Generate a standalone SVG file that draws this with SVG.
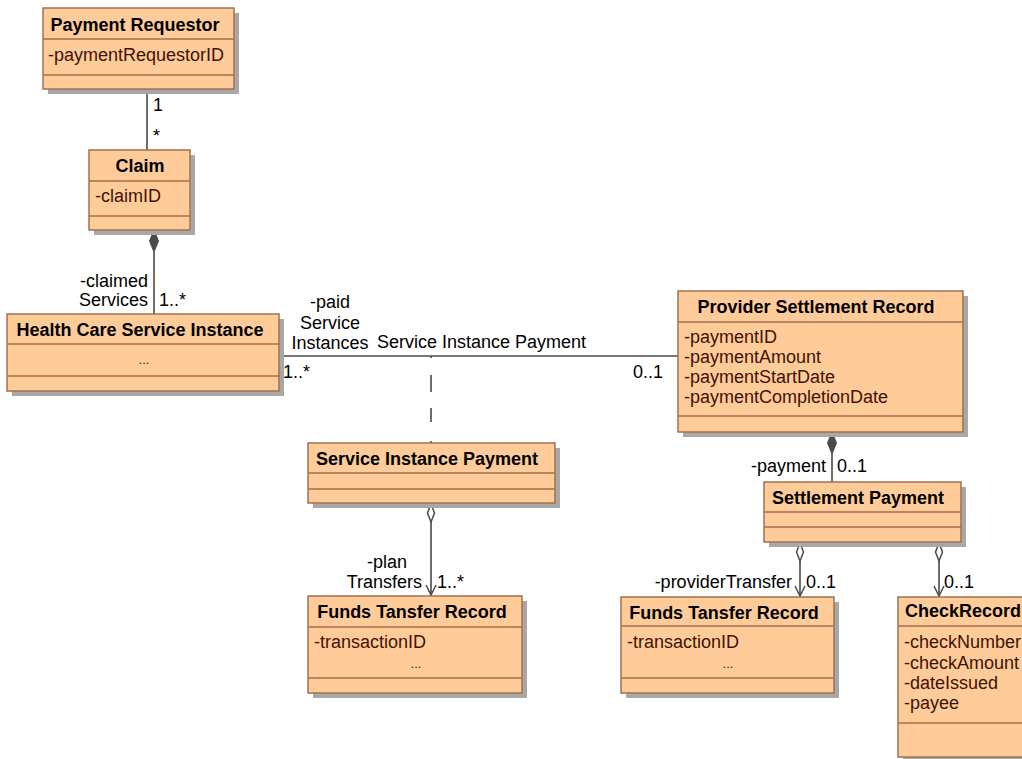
<svg xmlns="http://www.w3.org/2000/svg" width="1022" height="759" viewBox="0 0 1022 759">
<style>
text{font-family:"Liberation Sans",Arial,sans-serif;font-size:18px;}
.box{fill:#FFCC99;stroke:#A0714F;stroke-width:1.5;}
.shadow{fill:#A8A8A8;}
.sep{stroke:#A0714F;stroke-width:1.5;}
.hdr{font-weight:bold;fill:#000;text-anchor:middle;}
.hdrl{font-weight:bold;fill:#000;text-anchor:start;}
.attr{fill:#3F1206;}
.dots{fill:#3F1206;font-size:13px;text-anchor:middle;}
.lbl{fill:#000;}
.ln{stroke:#4A4A4A;stroke-width:1.6;fill:none;}
.comp{fill:#4A4A4A;stroke:#4A4A4A;stroke-width:1;}
.agg{fill:#fff;stroke:#4A4A4A;stroke-width:1.5;}
</style>
<defs>
<marker id="open" viewBox="0 0 12 12" refX="11" refY="6" markerWidth="12" markerHeight="12" markerUnits="userSpaceOnUse" orient="auto">
<path d="M1,1 L11,6 L1,11" fill="none" stroke="#4A4A4A" stroke-width="1.5"/>
</marker>
</defs>

<g id="connectors">
<line class="ln" x1="147" y1="89" x2="147" y2="150"/>
<text class="lbl" x="153" y="111">1</text>
<text class="lbl" x="153" y="142">*</text>

<line class="ln" x1="154" y1="252" x2="154" y2="314"/>
<path class="comp" d="M154,230 L158.5,241 L154,252 L149.5,241 Z"/>
<text class="lbl" x="148" y="287" text-anchor="end">-claimed</text>
<text class="lbl" x="148" y="306" text-anchor="end">Services</text>
<text class="lbl" x="159" y="306">1..*</text>

<line class="ln" x1="279" y1="356" x2="678" y2="356" stroke-width="1.2"/>
<text class="lbl" x="330" y="308" text-anchor="middle">-paid</text>
<text class="lbl" x="330" y="329" text-anchor="middle">Service</text>
<text class="lbl" x="330" y="349" text-anchor="middle">Instances</text>
<text class="lbl" x="377" y="348">Service Instance Payment</text>
<text class="lbl" x="283" y="378">1..*</text>
<text class="lbl" x="663" y="378" text-anchor="end">0..1</text>

<line class="ln" x1="431" y1="356" x2="431" y2="443" stroke-dasharray="2 17 17 16 14 19 4"/>

<line class="ln" x1="431" y1="522" x2="431" y2="595" marker-end="url(#open)"/>
<path class="agg" d="M431,504 L434.5,513 L431,522 L427.5,513 Z"/>
<text class="lbl" x="387" y="568" text-anchor="middle">-plan</text>
<text class="lbl" x="422" y="588" text-anchor="end">Transfers</text>
<text class="lbl" x="437" y="588">1..*</text>

<line class="ln" x1="832" y1="454" x2="832" y2="482"/>
<path class="comp" d="M832,432 L836.5,443 L832,454 L827.5,443 Z"/>
<text class="lbl" x="826" y="472" text-anchor="end">-payment</text>
<text class="lbl" x="837" y="472">0..1</text>

<line class="ln" x1="800" y1="561" x2="800" y2="596" marker-end="url(#open)"/>
<path class="agg" d="M800,543 L803.5,552 L800,561 L796.5,552 Z"/>
<text class="lbl" x="792" y="588" text-anchor="end">-providerTransfer</text>
<text class="lbl" x="806" y="588">0..1</text>

<line class="ln" x1="939" y1="561" x2="939" y2="596" marker-end="url(#open)"/>
<path class="agg" d="M939,543 L942.5,552 L939,561 L935.5,552 Z"/>
<text class="lbl" x="944" y="588">0..1</text>
</g>

<g id="payment-requestor">
<rect class="shadow" x="48" y="13" width="191" height="81"/>
<rect class="box" x="43" y="8" width="191" height="81"/>
<line class="sep" x1="43" y1="39" x2="234" y2="39"/>
<line class="sep" x1="43" y1="75" x2="234" y2="75"/>
<text class="hdr" x="135" y="31">Payment Requestor</text>
<text class="attr" x="48" y="61">-paymentRequestorID</text>
</g>

<g id="claim">
<rect class="shadow" x="94" y="155" width="101" height="80"/>
<rect class="box" x="89" y="150" width="101" height="80"/>
<line class="sep" x1="89" y1="181" x2="190" y2="181"/>
<line class="sep" x1="89" y1="216" x2="190" y2="216"/>
<text class="hdr" x="140" y="172">Claim</text>
<text class="attr" x="95" y="202">-claimID</text>
</g>

<g id="health-care-service-instance">
<rect class="shadow" x="12" y="319" width="272" height="77"/>
<rect class="box" x="7" y="314" width="272" height="77"/>
<line class="sep" x1="7" y1="344" x2="279" y2="344"/>
<line class="sep" x1="7" y1="376" x2="279" y2="376"/>
<text class="hdr" x="140" y="336">Health Care Service Instance</text>
<text class="dots" x="144" y="364">...</text>
</g>

<g id="provider-settlement-record">
<rect class="shadow" x="683" y="296" width="285" height="141"/>
<rect class="box" x="678" y="291" width="285" height="141"/>
<line class="sep" x1="678" y1="322" x2="963" y2="322"/>
<line class="sep" x1="678" y1="416" x2="963" y2="416"/>
<text class="hdr" x="816" y="313">Provider Settlement Record</text>
<text class="attr" x="684" y="343">-paymentID</text>
<text class="attr" x="684" y="363">-paymentAmount</text>
<text class="attr" x="684" y="383">-paymentStartDate</text>
<text class="attr" x="684" y="403">-paymentCompletionDate</text>
</g>

<g id="service-instance-payment">
<rect class="shadow" x="313" y="448" width="247" height="60"/>
<rect class="box" x="308" y="443" width="247" height="60"/>
<line class="sep" x1="308" y1="473" x2="555" y2="473"/>
<line class="sep" x1="308" y1="489" x2="555" y2="489"/>
<text class="hdr" x="427" y="465">Service Instance Payment</text>
</g>

<g id="funds-transfer-record-1">
<rect class="shadow" x="313" y="601" width="214" height="97"/>
<rect class="box" x="308" y="596" width="214" height="97"/>
<line class="sep" x1="308" y1="627" x2="522" y2="627"/>
<line class="sep" x1="308" y1="678" x2="522" y2="678"/>
<text class="hdr" x="412" y="618">Funds Tansfer Record</text>
<text class="attr" x="314" y="648">-transactionID</text>
<text class="dots" x="416" y="668">...</text>
</g>

<g id="settlement-payment">
<rect class="shadow" x="769" y="487" width="197" height="60"/>
<rect class="box" x="764" y="482" width="197" height="60"/>
<line class="sep" x1="764" y1="512" x2="961" y2="512"/>
<line class="sep" x1="764" y1="527" x2="961" y2="527"/>
<text class="hdr" x="858" y="504">Settlement Payment</text>
</g>

<g id="funds-transfer-record-2">
<rect class="shadow" x="626" y="602" width="213" height="96"/>
<rect class="box" x="621" y="597" width="213" height="96"/>
<line class="sep" x1="621" y1="626" x2="834" y2="626"/>
<line class="sep" x1="621" y1="678" x2="834" y2="678"/>
<text class="hdr" x="724" y="619">Funds Tansfer Record</text>
<text class="attr" x="627" y="648">-transactionID</text>
<text class="dots" x="728" y="668">...</text>
</g>

<g id="check-record">
<rect class="shadow" x="903" y="602" width="130" height="160"/>
<rect class="box" x="898" y="597" width="130" height="160"/>
<line class="sep" x1="898" y1="626" x2="1028" y2="626"/>
<line class="sep" x1="898" y1="723" x2="1028" y2="723"/>
<text class="hdrl" x="905" y="617">CheckRecord</text>
<text class="attr" x="904" y="648">-checkNumber</text>
<text class="attr" x="904" y="669">-checkAmount</text>
<text class="attr" x="904" y="689">-dateIssued</text>
<text class="attr" x="904" y="709">-payee</text>
</g>
</svg>
